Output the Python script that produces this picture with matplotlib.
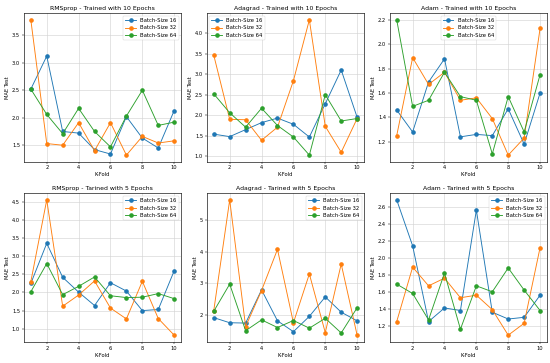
import matplotlib
matplotlib.use('Agg')
import matplotlib.pyplot as plt
import numpy as np

folds = np.arange(1, 11)
batch_labels = ['Batch-Size 16', 'Batch-Size 32', 'Batch-Size 64']

# 10 epochs
rms10_b16 = [2.52, 3.12, 1.75, 1.72, 1.42, 1.34, 2.02, 1.63, 1.45, 2.13]
rms10_b32 = [3.78, 1.53, 1.50, 1.91, 1.40, 1.91, 1.32, 1.66, 1.54, 1.58]
rms10_b64 = [2.52, 2.06, 1.71, 2.17, 1.75, 1.47, 2.03, 2.50, 1.86, 1.92]

ada10_b16 = [1.54, 1.48, 1.65, 1.82, 1.93, 1.78, 1.47, 2.28, 3.10, 1.95]
ada10_b32 = [3.46, 1.90, 1.89, 1.39, 1.71, 2.84, 4.32, 1.73, 1.10, 1.92]
ada10_b64 = [2.52, 2.06, 1.71, 2.17, 1.75, 1.47, 1.03, 2.50, 1.86, 1.92]

adam10_b16 = [1.46, 1.28, 1.69, 1.88, 1.24, 1.26, 1.25, 1.47, 1.18, 1.60]
adam10_b32 = [1.25, 1.89, 1.67, 1.77, 1.54, 1.56, 1.39, 1.09, 1.23, 2.13]
adam10_b64 = [2.20, 1.49, 1.54, 1.77, 1.57, 1.54, 1.10, 1.57, 1.28, 1.75]

# 5 epochs
rms5_b16 = [2.25, 3.36, 2.42, 2.01, 1.64, 2.27, 2.04, 1.50, 1.53, 2.60]
rms5_b32 = [2.30, 4.56, 1.62, 1.93, 2.32, 1.57, 1.27, 2.31, 1.28, 0.82]
rms5_b64 = [2.02, 2.80, 1.94, 2.17, 2.43, 1.91, 1.86, 1.87, 1.97, 1.83]

ada5_b16 = [1.93, 1.77, 1.76, 2.80, 1.83, 1.49, 1.97, 2.58, 2.10, 1.83]
ada5_b32 = [2.15, 5.62, 1.65, 2.78, 4.07, 1.77, 3.30, 1.46, 3.61, 1.38]
ada5_b64 = [2.13, 2.98, 1.52, 1.86, 1.62, 1.84, 1.60, 1.91, 1.45, 2.24]

adam5_b16 = [2.68, 2.14, 1.25, 1.41, 1.38, 2.56, 1.36, 1.28, 1.30, 1.56]
adam5_b32 = [1.25, 1.89, 1.67, 1.76, 1.53, 1.56, 1.39, 1.09, 1.23, 2.12]
adam5_b64 = [1.69, 1.58, 1.27, 1.82, 1.16, 1.67, 1.60, 1.88, 1.62, 1.38]

panels = [
    ('RMSprop - Trained with 10 Epochs', [rms10_b16, rms10_b32, rms10_b64], 'upper right'),
    ('Adagrad - Trained with 10 Epochs', [ada10_b16, ada10_b32, ada10_b64], 'upper left'),
    ('Adam - Trained with 10 Epochs', [adam10_b16, adam10_b32, adam10_b64], 'upper center'),
    ('RMSprop - Tarined with 5 Epochs', [rms5_b16, rms5_b32, rms5_b64], 'upper right'),
    ('Adagrad - Tarined with 5 Epochs', [ada5_b16, ada5_b32, ada5_b64], 'upper right'),
    ('Adam - Tarined with 5 Epochs', [adam5_b16, adam5_b32, adam5_b64], 'upper right'),
]

fig, axes = plt.subplots(2, 3, figsize=(5.5, 3.63), dpi=100)

for ax, (title, series, loc) in zip(axes.flat, panels):
    for vals, lab in zip(series, batch_labels):
        ax.plot(folds, vals, marker='o', linewidth=0.65, markersize=2.3, label=lab)
    ax.set_title(title, fontsize=4.4, pad=2.2)
    ax.set_xlabel('K-Fold', fontsize=3.7, labelpad=1.4)
    ax.set_ylabel('MAE Test', fontsize=3.7, labelpad=1.4)
    ax.tick_params(labelsize=3.7, length=1.3, width=0.35, pad=1.3)
    ax.grid(True, linewidth=0.45, color='#d4d4d4')
    for s in ax.spines.values():
        s.set_linewidth(0.45)
    leg = ax.legend(loc=loc, fontsize=3.8, handlelength=2.0, borderpad=0.4,
                    labelspacing=0.5, framealpha=0.8, edgecolor='#cccccc')
    leg.get_frame().set_linewidth(0.35)

plt.subplots_adjust(left=0.043, right=0.995, top=0.964, bottom=0.058,
                    wspace=0.16, hspace=0.21)
plt.savefig('out.png', dpi=100)
